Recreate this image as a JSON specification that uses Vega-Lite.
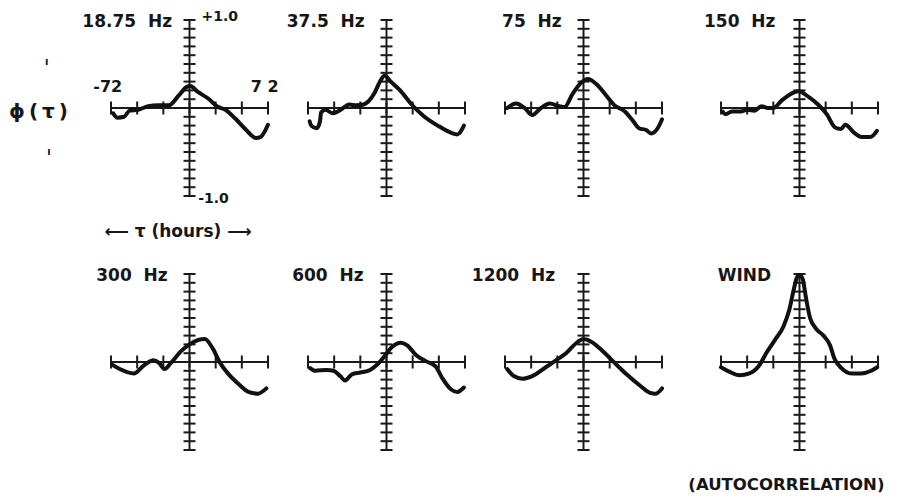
{
 "$schema": "https://vega.github.io/schema/vega-lite/v6.json",
 "background": "white",
 "padding": {"left": 9, "top": 10, "right": 5, "bottom": 5},
 "config": {"view": {"stroke": null}, "axis": {"disable": true}, "text": {"font": "DejaVu Sans", "fontWeight": "bold", "color": "#161616"}},
 "datasets": {
  "xt": [{"t":-72},{"t":-48},{"t":-24},{"t":0},{"t":24},{"t":48},{"t":72}],
  "yt": [{"v":-1},{"v":-0.9},{"v":-0.8},{"v":-0.7},{"v":-0.6},{"v":-0.5},{"v":-0.4},{"v":-0.3},{"v":-0.2},{"v":-0.1},{"v":0},{"v":0.1},{"v":0.2},{"v":0.3},{"v":0.4},{"v":0.5},{"v":0.6},{"v":0.7},{"v":0.8},{"v":0.9},{"v":1}],
  "curves": [
   {"p":"18.75","t":-70,"v":-0.06},{"p":"18.75","t":-66,"v":-0.11},{"p":"18.75","t":-60,"v":-0.10},{"p":"18.75","t":-55,"v":-0.03},{"p":"18.75","t":-47,"v":-0.02},{"p":"18.75","t":-38,"v":0.02},{"p":"18.75","t":-29,"v":0.03},{"p":"18.75","t":-19,"v":0.03},{"p":"18.75","t":-10,"v":0.14},{"p":"18.75","t":-2.5,"v":0.24},{"p":"18.75","t":0.6,"v":0.25},{"p":"18.75","t":8,"v":0.18},{"p":"18.75","t":18,"v":0.10},{"p":"18.75","t":25,"v":0.02},{"p":"18.75","t":33,"v":-0.02},{"p":"18.75","t":42,"v":-0.12},{"p":"18.75","t":52,"v":-0.25},{"p":"18.75","t":61,"v":-0.34},{"p":"18.75","t":65,"v":-0.33},{"p":"18.75","t":72,"v":-0.19},
   {"p":"37.5","t":-70.5,"v":-0.15},{"p":"37.5","t":-69,"v":-0.2},{"p":"37.5","t":-64,"v":-0.23},{"p":"37.5","t":-61,"v":-0.15},{"p":"37.5","t":-60,"v":-0.05},{"p":"37.5","t":-56,"v":-0.02},{"p":"37.5","t":-49.5,"v":-0.06},{"p":"37.5","t":-42,"v":-0.02},{"p":"37.5","t":-34,"v":0.04},{"p":"37.5","t":-28,"v":0.03},{"p":"37.5","t":-21,"v":0.04},{"p":"37.5","t":-11,"v":0.17},{"p":"37.5","t":-5.6,"v":0.31},{"p":"37.5","t":-1.5,"v":0.37},{"p":"37.5","t":3,"v":0.31},{"p":"37.5","t":12.5,"v":0.2},{"p":"37.5","t":23,"v":0.04},{"p":"37.5","t":34,"v":-0.09},{"p":"37.5","t":47,"v":-0.2},{"p":"37.5","t":59,"v":-0.28},{"p":"37.5","t":65,"v":-0.3},{"p":"37.5","t":71,"v":-0.2},
   {"p":"75","t":-70,"v":0},{"p":"75","t":-62,"v":0.05},{"p":"75","t":-54,"v":0},{"p":"75","t":-47,"v":-0.08},{"p":"75","t":-39,"v":0},{"p":"75","t":-31,"v":0.05},{"p":"75","t":-22,"v":0.02},{"p":"75","t":-17.5,"v":0.01},{"p":"75","t":-10,"v":0.16},{"p":"75","t":-2,"v":0.29},{"p":"75","t":4,"v":0.33},{"p":"75","t":12,"v":0.27},{"p":"75","t":21,"v":0.14},{"p":"75","t":28.5,"v":0.03},{"p":"75","t":38,"v":-0.04},{"p":"75","t":45,"v":-0.14},{"p":"75","t":51,"v":-0.23},{"p":"75","t":57.5,"v":-0.25},{"p":"75","t":62,"v":-0.29},{"p":"75","t":68,"v":-0.23},{"p":"75","t":72,"v":-0.13},
   {"p":"150","t":-70.6,"v":-0.04},{"p":"150","t":-68,"v":-0.07},{"p":"150","t":-62,"v":-0.04},{"p":"150","t":-54,"v":-0.04},{"p":"150","t":-48,"v":-0.02},{"p":"150","t":-41,"v":-0.03},{"p":"150","t":-35,"v":0.02},{"p":"150","t":-29,"v":0},{"p":"150","t":-24,"v":0},{"p":"150","t":-16,"v":0.09},{"p":"150","t":-8,"v":0.16},{"p":"150","t":-1,"v":0.19},{"p":"150","t":8,"v":0.13},{"p":"150","t":17,"v":0.04},{"p":"150","t":25,"v":-0.07},{"p":"150","t":32.5,"v":-0.22},{"p":"150","t":38,"v":-0.24},{"p":"150","t":42,"v":-0.19},{"p":"150","t":50,"v":-0.28},{"p":"150","t":57,"v":-0.33},{"p":"150","t":65,"v":-0.33},{"p":"150","t":71,"v":-0.26},
   {"p":"300","t":-71,"v":-0.03},{"p":"300","t":-64,"v":-0.08},{"p":"300","t":-51,"v":-0.13},{"p":"300","t":-42,"v":-0.04},{"p":"300","t":-33,"v":0.02},{"p":"300","t":-28,"v":-0.01},{"p":"300","t":-23,"v":-0.08},{"p":"300","t":-17,"v":-0.01},{"p":"300","t":-8,"v":0.12},{"p":"300","t":0,"v":0.2},{"p":"300","t":8,"v":0.25},{"p":"300","t":14,"v":0.26},{"p":"300","t":21,"v":0.16},{"p":"300","t":28,"v":-0.01},{"p":"300","t":36,"v":-0.14},{"p":"300","t":45,"v":-0.25},{"p":"300","t":54,"v":-0.34},{"p":"300","t":62.7,"v":-0.36},{"p":"300","t":70.5,"v":-0.3},
   {"p":"600","t":-70,"v":-0.07},{"p":"600","t":-65.5,"v":-0.1},{"p":"600","t":-55,"v":-0.09},{"p":"600","t":-48.6,"v":-0.1},{"p":"600","t":-42.5,"v":-0.16},{"p":"600","t":-38,"v":-0.21},{"p":"600","t":-31.7,"v":-0.14},{"p":"600","t":-24,"v":-0.12},{"p":"600","t":-15,"v":-0.09},{"p":"600","t":-7,"v":-0.01},{"p":"600","t":-1,"v":0.08},{"p":"600","t":5,"v":0.17},{"p":"600","t":13,"v":0.22},{"p":"600","t":19,"v":0.19},{"p":"600","t":27,"v":0.08},{"p":"600","t":36,"v":0.01},{"p":"600","t":45,"v":-0.05},{"p":"600","t":51,"v":-0.18},{"p":"600","t":59,"v":-0.31},{"p":"600","t":65,"v":-0.34},{"p":"600","t":71,"v":-0.29},
   {"p":"1200","t":-70,"v":-0.08},{"p":"1200","t":-64,"v":-0.16},{"p":"1200","t":-56,"v":-0.19},{"p":"1200","t":-47,"v":-0.16},{"p":"1200","t":-34.6,"v":-0.06},{"p":"1200","t":-24,"v":0.03},{"p":"1200","t":-16,"v":0.1},{"p":"1200","t":-7,"v":0.21},{"p":"1200","t":0,"v":0.26},{"p":"1200","t":7,"v":0.23},{"p":"1200","t":18,"v":0.12},{"p":"1200","t":27,"v":0.01},{"p":"1200","t":39.5,"v":-0.14},{"p":"1200","t":52,"v":-0.27},{"p":"1200","t":61,"v":-0.35},{"p":"1200","t":66,"v":-0.36},{"p":"1200","t":72,"v":-0.3},
   {"p":"wind","t":-72,"v":-0.06},{"p":"wind","t":-64.5,"v":-0.11},{"p":"wind","t":-55,"v":-0.15},{"p":"wind","t":-46,"v":-0.13},{"p":"wind","t":-37,"v":-0.04},{"p":"wind","t":-30,"v":0.11},{"p":"wind","t":-22,"v":0.26},{"p":"wind","t":-14.5,"v":0.41},{"p":"wind","t":-9.4,"v":0.59},{"p":"wind","t":-5.5,"v":0.81},{"p":"wind","t":-2.4,"v":0.96},{"p":"wind","t":0,"v":0.99},{"p":"wind","t":3,"v":0.94},{"p":"wind","t":5.8,"v":0.74},{"p":"wind","t":9.7,"v":0.5},{"p":"wind","t":15.8,"v":0.37},{"p":"wind","t":22,"v":0.3},{"p":"wind","t":28,"v":0.19},{"p":"wind","t":32,"v":0.04},{"p":"wind","t":38.5,"v":-0.07},{"p":"wind","t":47.6,"v":-0.13},{"p":"wind","t":56.7,"v":-0.13},{"p":"wind","t":65.8,"v":-0.1},{"p":"wind","t":71.2,"v":-0.06}
  ]
 },
 "columns": 4,
 "spacing": {"row": 78, "column": 40},
 "align": "each",
 "bounds": "flush",
 "concat": [
  {"width": 157, "height": 176, "layer": [
   {"data": {"values": [{}]}, "mark": {"type": "rule", "color": "#1a1a1a", "strokeWidth": 2}, "encoding": {"x": {"datum": -72, "type": "quantitative", "scale": {"domain": [-72, 72], "nice": false, "zero": false}, "axis": null}, "x2": {"datum": 72}, "y": {"datum": 0, "type": "quantitative", "scale": {"domain": [-1, 1], "nice": false, "zero": false}, "axis": null}}},
   {"data": {"values": [{}]}, "mark": {"type": "rule", "color": "#1a1a1a", "strokeWidth": 2}, "encoding": {"x": {"datum": 0, "type": "quantitative"}, "y": {"datum": -1, "type": "quantitative"}, "y2": {"datum": 1}}},
   {"data": {"name": "xt"}, "mark": {"type": "tick", "orient": "vertical", "size": 13, "thickness": 2, "color": "#1a1a1a", "opacity": 1}, "encoding": {"x": {"field": "t", "type": "quantitative"}, "y": {"datum": 0, "type": "quantitative"}}},
   {"data": {"name": "yt"}, "mark": {"type": "tick", "orient": "horizontal", "size": 12, "thickness": 2, "color": "#1a1a1a", "opacity": 1}, "encoding": {"x": {"datum": 0, "type": "quantitative"}, "y": {"field": "v", "type": "quantitative"}}},
   {"data": {"name": "curves"}, "transform": [{"filter": "datum.p === '18.75'"}], "mark": {"type": "line", "color": "#111", "strokeWidth": 4, "interpolate": "monotone", "strokeCap": "round", "strokeJoin": "round"}, "encoding": {"x": {"field": "t", "type": "quantitative"}, "y": {"field": "v", "type": "quantitative"}}},
   {"data": {"values": [{}]}, "mark": {"type": "text", "text": "18.75\u00a0\u00a0Hz", "align": "right", "baseline": "middle", "fontSize": 17}, "encoding": {"x": {"datum": -16, "type": "quantitative"}, "y": {"datum": 0.98, "type": "quantitative"}}},
   {"data": {"values": [{}]}, "mark": {"type": "text", "text": "+1.0", "align": "left", "baseline": "middle", "fontSize": 14}, "encoding": {"x": {"datum": 11, "type": "quantitative"}, "y": {"datum": 1.03, "type": "quantitative"}}},
   {"data": {"values": [{}]}, "mark": {"type": "text", "text": "-1.0", "align": "left", "baseline": "middle", "fontSize": 14}, "encoding": {"x": {"datum": 8, "type": "quantitative"}, "y": {"datum": -1.03, "type": "quantitative"}}},
   {"data": {"values": [{}]}, "mark": {"type": "text", "text": "-72", "align": "center", "baseline": "middle", "fontSize": 16}, "encoding": {"x": {"datum": -75, "type": "quantitative"}, "y": {"datum": 0.24, "type": "quantitative"}}},
   {"data": {"values": [{}]}, "mark": {"type": "text", "text": "7\u00a02", "align": "center", "baseline": "middle", "fontSize": 16}, "encoding": {"x": {"datum": 69, "type": "quantitative"}, "y": {"datum": 0.24, "type": "quantitative"}}},
   {"data": {"values": [{}]}, "mark": {"type": "text", "text": "ϕ\u2009(\u2009τ\u2009)", "align": "center", "baseline": "middle", "fontSize": 20}, "encoding": {"x": {"datum": -138.5, "type": "quantitative"}, "y": {"datum": -0.04, "type": "quantitative"}}},
   {"data": {"values": [{}]}, "mark": {"type": "text", "text": "ı", "align": "center", "baseline": "middle", "fontSize": 10}, "encoding": {"x": {"datum": -131, "type": "quantitative"}, "y": {"datum": 0.52, "type": "quantitative"}}},
   {"data": {"values": [{}]}, "mark": {"type": "text", "text": "ı", "align": "center", "baseline": "middle", "fontSize": 10}, "encoding": {"x": {"datum": -129, "type": "quantitative"}, "y": {"datum": -0.5, "type": "quantitative"}}},
   {"data": {"values": [{}]}, "mark": {"type": "text", "text": "⟵ τ (hours) ⟶", "align": "center", "baseline": "middle", "fontSize": 17}, "encoding": {"x": {"datum": -10.5, "type": "quantitative"}, "y": {"datum": -1.41, "type": "quantitative"}}}
  ]},
  {"width": 157, "height": 176, "layer": [
   {"data": {"values": [{}]}, "mark": {"type": "rule", "color": "#1a1a1a", "strokeWidth": 2}, "encoding": {"x": {"datum": -72, "type": "quantitative", "scale": {"domain": [-72, 72], "nice": false, "zero": false}, "axis": null}, "x2": {"datum": 72}, "y": {"datum": 0, "type": "quantitative", "scale": {"domain": [-1, 1], "nice": false, "zero": false}, "axis": null}}},
   {"data": {"values": [{}]}, "mark": {"type": "rule", "color": "#1a1a1a", "strokeWidth": 2}, "encoding": {"x": {"datum": 0, "type": "quantitative"}, "y": {"datum": -1, "type": "quantitative"}, "y2": {"datum": 1}}},
   {"data": {"name": "xt"}, "mark": {"type": "tick", "orient": "vertical", "size": 13, "thickness": 2, "color": "#1a1a1a", "opacity": 1}, "encoding": {"x": {"field": "t", "type": "quantitative"}, "y": {"datum": 0, "type": "quantitative"}}},
   {"data": {"name": "yt"}, "mark": {"type": "tick", "orient": "horizontal", "size": 12, "thickness": 2, "color": "#1a1a1a", "opacity": 1}, "encoding": {"x": {"datum": 0, "type": "quantitative"}, "y": {"field": "v", "type": "quantitative"}}},
   {"data": {"name": "curves"}, "transform": [{"filter": "datum.p === '37.5'"}], "mark": {"type": "line", "color": "#111", "strokeWidth": 4, "interpolate": "monotone", "strokeCap": "round", "strokeJoin": "round"}, "encoding": {"x": {"field": "t", "type": "quantitative"}, "y": {"field": "v", "type": "quantitative"}}},
   {"data": {"values": [{}]}, "mark": {"type": "text", "text": "37.5\u00a0\u00a0Hz", "align": "right", "baseline": "middle", "fontSize": 17}, "encoding": {"x": {"datum": -20, "type": "quantitative"}, "y": {"datum": 0.98, "type": "quantitative"}}}
  ]},
  {"width": 157, "height": 176, "layer": [
   {"data": {"values": [{}]}, "mark": {"type": "rule", "color": "#1a1a1a", "strokeWidth": 2}, "encoding": {"x": {"datum": -72, "type": "quantitative", "scale": {"domain": [-72, 72], "nice": false, "zero": false}, "axis": null}, "x2": {"datum": 72}, "y": {"datum": 0, "type": "quantitative", "scale": {"domain": [-1, 1], "nice": false, "zero": false}, "axis": null}}},
   {"data": {"values": [{}]}, "mark": {"type": "rule", "color": "#1a1a1a", "strokeWidth": 2}, "encoding": {"x": {"datum": 0, "type": "quantitative"}, "y": {"datum": -1, "type": "quantitative"}, "y2": {"datum": 1}}},
   {"data": {"name": "xt"}, "mark": {"type": "tick", "orient": "vertical", "size": 13, "thickness": 2, "color": "#1a1a1a", "opacity": 1}, "encoding": {"x": {"field": "t", "type": "quantitative"}, "y": {"datum": 0, "type": "quantitative"}}},
   {"data": {"name": "yt"}, "mark": {"type": "tick", "orient": "horizontal", "size": 12, "thickness": 2, "color": "#1a1a1a", "opacity": 1}, "encoding": {"x": {"datum": 0, "type": "quantitative"}, "y": {"field": "v", "type": "quantitative"}}},
   {"data": {"name": "curves"}, "transform": [{"filter": "datum.p === '75'"}], "mark": {"type": "line", "color": "#111", "strokeWidth": 4, "interpolate": "monotone", "strokeCap": "round", "strokeJoin": "round"}, "encoding": {"x": {"field": "t", "type": "quantitative"}, "y": {"field": "v", "type": "quantitative"}}},
   {"data": {"values": [{}]}, "mark": {"type": "text", "text": "75\u00a0\u00a0Hz", "align": "right", "baseline": "middle", "fontSize": 17}, "encoding": {"x": {"datum": -20, "type": "quantitative"}, "y": {"datum": 0.98, "type": "quantitative"}}}
  ]},
  {"width": 176, "height": 176, "layer": [
   {"data": {"values": [{}]}, "mark": {"type": "rule", "color": "#1a1a1a", "strokeWidth": 2}, "encoding": {"x": {"datum": -72, "type": "quantitative", "scale": {"domain": [-89.4, 72], "nice": false, "zero": false}, "axis": null}, "x2": {"datum": 72}, "y": {"datum": 0, "type": "quantitative", "scale": {"domain": [-1, 1], "nice": false, "zero": false}, "axis": null}}},
   {"data": {"values": [{}]}, "mark": {"type": "rule", "color": "#1a1a1a", "strokeWidth": 2}, "encoding": {"x": {"datum": 0, "type": "quantitative"}, "y": {"datum": -1, "type": "quantitative"}, "y2": {"datum": 1}}},
   {"data": {"name": "xt"}, "mark": {"type": "tick", "orient": "vertical", "size": 13, "thickness": 2, "color": "#1a1a1a", "opacity": 1}, "encoding": {"x": {"field": "t", "type": "quantitative"}, "y": {"datum": 0, "type": "quantitative"}}},
   {"data": {"name": "yt"}, "mark": {"type": "tick", "orient": "horizontal", "size": 12, "thickness": 2, "color": "#1a1a1a", "opacity": 1}, "encoding": {"x": {"datum": 0, "type": "quantitative"}, "y": {"field": "v", "type": "quantitative"}}},
   {"data": {"name": "curves"}, "transform": [{"filter": "datum.p === '150'"}], "mark": {"type": "line", "color": "#111", "strokeWidth": 4, "interpolate": "monotone", "strokeCap": "round", "strokeJoin": "round"}, "encoding": {"x": {"field": "t", "type": "quantitative"}, "y": {"field": "v", "type": "quantitative"}}},
   {"data": {"values": [{}]}, "mark": {"type": "text", "text": "150\u00a0\u00a0Hz", "align": "right", "baseline": "middle", "fontSize": 17}, "encoding": {"x": {"datum": -22, "type": "quantitative"}, "y": {"datum": 0.98, "type": "quantitative"}}}
  ]},
  {"width": 157, "height": 176, "layer": [
   {"data": {"values": [{}]}, "mark": {"type": "rule", "color": "#1a1a1a", "strokeWidth": 2}, "encoding": {"x": {"datum": -72, "type": "quantitative", "scale": {"domain": [-72, 72], "nice": false, "zero": false}, "axis": null}, "x2": {"datum": 72}, "y": {"datum": 0, "type": "quantitative", "scale": {"domain": [-1, 1], "nice": false, "zero": false}, "axis": null}}},
   {"data": {"values": [{}]}, "mark": {"type": "rule", "color": "#1a1a1a", "strokeWidth": 2}, "encoding": {"x": {"datum": 0, "type": "quantitative"}, "y": {"datum": -1, "type": "quantitative"}, "y2": {"datum": 1}}},
   {"data": {"name": "xt"}, "mark": {"type": "tick", "orient": "vertical", "size": 13, "thickness": 2, "color": "#1a1a1a", "opacity": 1}, "encoding": {"x": {"field": "t", "type": "quantitative"}, "y": {"datum": 0, "type": "quantitative"}}},
   {"data": {"name": "yt"}, "mark": {"type": "tick", "orient": "horizontal", "size": 12, "thickness": 2, "color": "#1a1a1a", "opacity": 1}, "encoding": {"x": {"datum": 0, "type": "quantitative"}, "y": {"field": "v", "type": "quantitative"}}},
   {"data": {"name": "curves"}, "transform": [{"filter": "datum.p === '300'"}], "mark": {"type": "line", "color": "#111", "strokeWidth": 4, "interpolate": "monotone", "strokeCap": "round", "strokeJoin": "round"}, "encoding": {"x": {"field": "t", "type": "quantitative"}, "y": {"field": "v", "type": "quantitative"}}},
   {"data": {"values": [{}]}, "mark": {"type": "text", "text": "300\u00a0\u00a0Hz", "align": "right", "baseline": "middle", "fontSize": 17}, "encoding": {"x": {"datum": -20, "type": "quantitative"}, "y": {"datum": 0.98, "type": "quantitative"}}}
  ]},
  {"width": 157, "height": 176, "layer": [
   {"data": {"values": [{}]}, "mark": {"type": "rule", "color": "#1a1a1a", "strokeWidth": 2}, "encoding": {"x": {"datum": -72, "type": "quantitative", "scale": {"domain": [-72, 72], "nice": false, "zero": false}, "axis": null}, "x2": {"datum": 72}, "y": {"datum": 0, "type": "quantitative", "scale": {"domain": [-1, 1], "nice": false, "zero": false}, "axis": null}}},
   {"data": {"values": [{}]}, "mark": {"type": "rule", "color": "#1a1a1a", "strokeWidth": 2}, "encoding": {"x": {"datum": 0, "type": "quantitative"}, "y": {"datum": -1, "type": "quantitative"}, "y2": {"datum": 1}}},
   {"data": {"name": "xt"}, "mark": {"type": "tick", "orient": "vertical", "size": 13, "thickness": 2, "color": "#1a1a1a", "opacity": 1}, "encoding": {"x": {"field": "t", "type": "quantitative"}, "y": {"datum": 0, "type": "quantitative"}}},
   {"data": {"name": "yt"}, "mark": {"type": "tick", "orient": "horizontal", "size": 12, "thickness": 2, "color": "#1a1a1a", "opacity": 1}, "encoding": {"x": {"datum": 0, "type": "quantitative"}, "y": {"field": "v", "type": "quantitative"}}},
   {"data": {"name": "curves"}, "transform": [{"filter": "datum.p === '600'"}], "mark": {"type": "line", "color": "#111", "strokeWidth": 4, "interpolate": "monotone", "strokeCap": "round", "strokeJoin": "round"}, "encoding": {"x": {"field": "t", "type": "quantitative"}, "y": {"field": "v", "type": "quantitative"}}},
   {"data": {"values": [{}]}, "mark": {"type": "text", "text": "600\u00a0\u00a0Hz", "align": "right", "baseline": "middle", "fontSize": 17}, "encoding": {"x": {"datum": -21, "type": "quantitative"}, "y": {"datum": 0.98, "type": "quantitative"}}}
  ]},
  {"width": 157, "height": 176, "layer": [
   {"data": {"values": [{}]}, "mark": {"type": "rule", "color": "#1a1a1a", "strokeWidth": 2}, "encoding": {"x": {"datum": -72, "type": "quantitative", "scale": {"domain": [-72, 72], "nice": false, "zero": false}, "axis": null}, "x2": {"datum": 72}, "y": {"datum": 0, "type": "quantitative", "scale": {"domain": [-1, 1], "nice": false, "zero": false}, "axis": null}}},
   {"data": {"values": [{}]}, "mark": {"type": "rule", "color": "#1a1a1a", "strokeWidth": 2}, "encoding": {"x": {"datum": 0, "type": "quantitative"}, "y": {"datum": -1, "type": "quantitative"}, "y2": {"datum": 1}}},
   {"data": {"name": "xt"}, "mark": {"type": "tick", "orient": "vertical", "size": 13, "thickness": 2, "color": "#1a1a1a", "opacity": 1}, "encoding": {"x": {"field": "t", "type": "quantitative"}, "y": {"datum": 0, "type": "quantitative"}}},
   {"data": {"name": "yt"}, "mark": {"type": "tick", "orient": "horizontal", "size": 12, "thickness": 2, "color": "#1a1a1a", "opacity": 1}, "encoding": {"x": {"datum": 0, "type": "quantitative"}, "y": {"field": "v", "type": "quantitative"}}},
   {"data": {"name": "curves"}, "transform": [{"filter": "datum.p === '1200'"}], "mark": {"type": "line", "color": "#111", "strokeWidth": 4, "interpolate": "monotone", "strokeCap": "round", "strokeJoin": "round"}, "encoding": {"x": {"field": "t", "type": "quantitative"}, "y": {"field": "v", "type": "quantitative"}}},
   {"data": {"values": [{}]}, "mark": {"type": "text", "text": "1200\u00a0\u00a0Hz", "align": "right", "baseline": "middle", "fontSize": 17}, "encoding": {"x": {"datum": -26, "type": "quantitative"}, "y": {"datum": 0.98, "type": "quantitative"}}}
  ]},
  {"width": 176, "height": 176, "layer": [
   {"data": {"values": [{}]}, "mark": {"type": "rule", "color": "#1a1a1a", "strokeWidth": 2}, "encoding": {"x": {"datum": -72, "type": "quantitative", "scale": {"domain": [-89.4, 72], "nice": false, "zero": false}, "axis": null}, "x2": {"datum": 72}, "y": {"datum": 0, "type": "quantitative", "scale": {"domain": [-1, 1], "nice": false, "zero": false}, "axis": null}}},
   {"data": {"values": [{}]}, "mark": {"type": "rule", "color": "#1a1a1a", "strokeWidth": 2}, "encoding": {"x": {"datum": 0, "type": "quantitative"}, "y": {"datum": -1, "type": "quantitative"}, "y2": {"datum": 1}}},
   {"data": {"name": "xt"}, "mark": {"type": "tick", "orient": "vertical", "size": 13, "thickness": 2, "color": "#1a1a1a", "opacity": 1}, "encoding": {"x": {"field": "t", "type": "quantitative"}, "y": {"datum": 0, "type": "quantitative"}}},
   {"data": {"name": "yt"}, "mark": {"type": "tick", "orient": "horizontal", "size": 12, "thickness": 2, "color": "#1a1a1a", "opacity": 1}, "encoding": {"x": {"datum": 0, "type": "quantitative"}, "y": {"field": "v", "type": "quantitative"}}},
   {"data": {"name": "curves"}, "transform": [{"filter": "datum.p === 'wind'"}], "mark": {"type": "line", "color": "#111", "strokeWidth": 4, "interpolate": "monotone", "strokeCap": "round", "strokeJoin": "round"}, "encoding": {"x": {"field": "t", "type": "quantitative"}, "y": {"field": "v", "type": "quantitative"}}},
   {"data": {"values": [{}]}, "mark": {"type": "text", "text": "WIND", "align": "right", "baseline": "middle", "fontSize": 17}, "encoding": {"x": {"datum": -26, "type": "quantitative"}, "y": {"datum": 0.98, "type": "quantitative"}}},
   {"data": {"values": [{}]}, "mark": {"type": "text", "text": "(AUTOCORRELATION)", "align": "center", "baseline": "middle", "fontSize": 16.5}, "encoding": {"x": {"datum": -12, "type": "quantitative"}, "y": {"datum": -1.4, "type": "quantitative"}}}
  ]}
 ]
}
